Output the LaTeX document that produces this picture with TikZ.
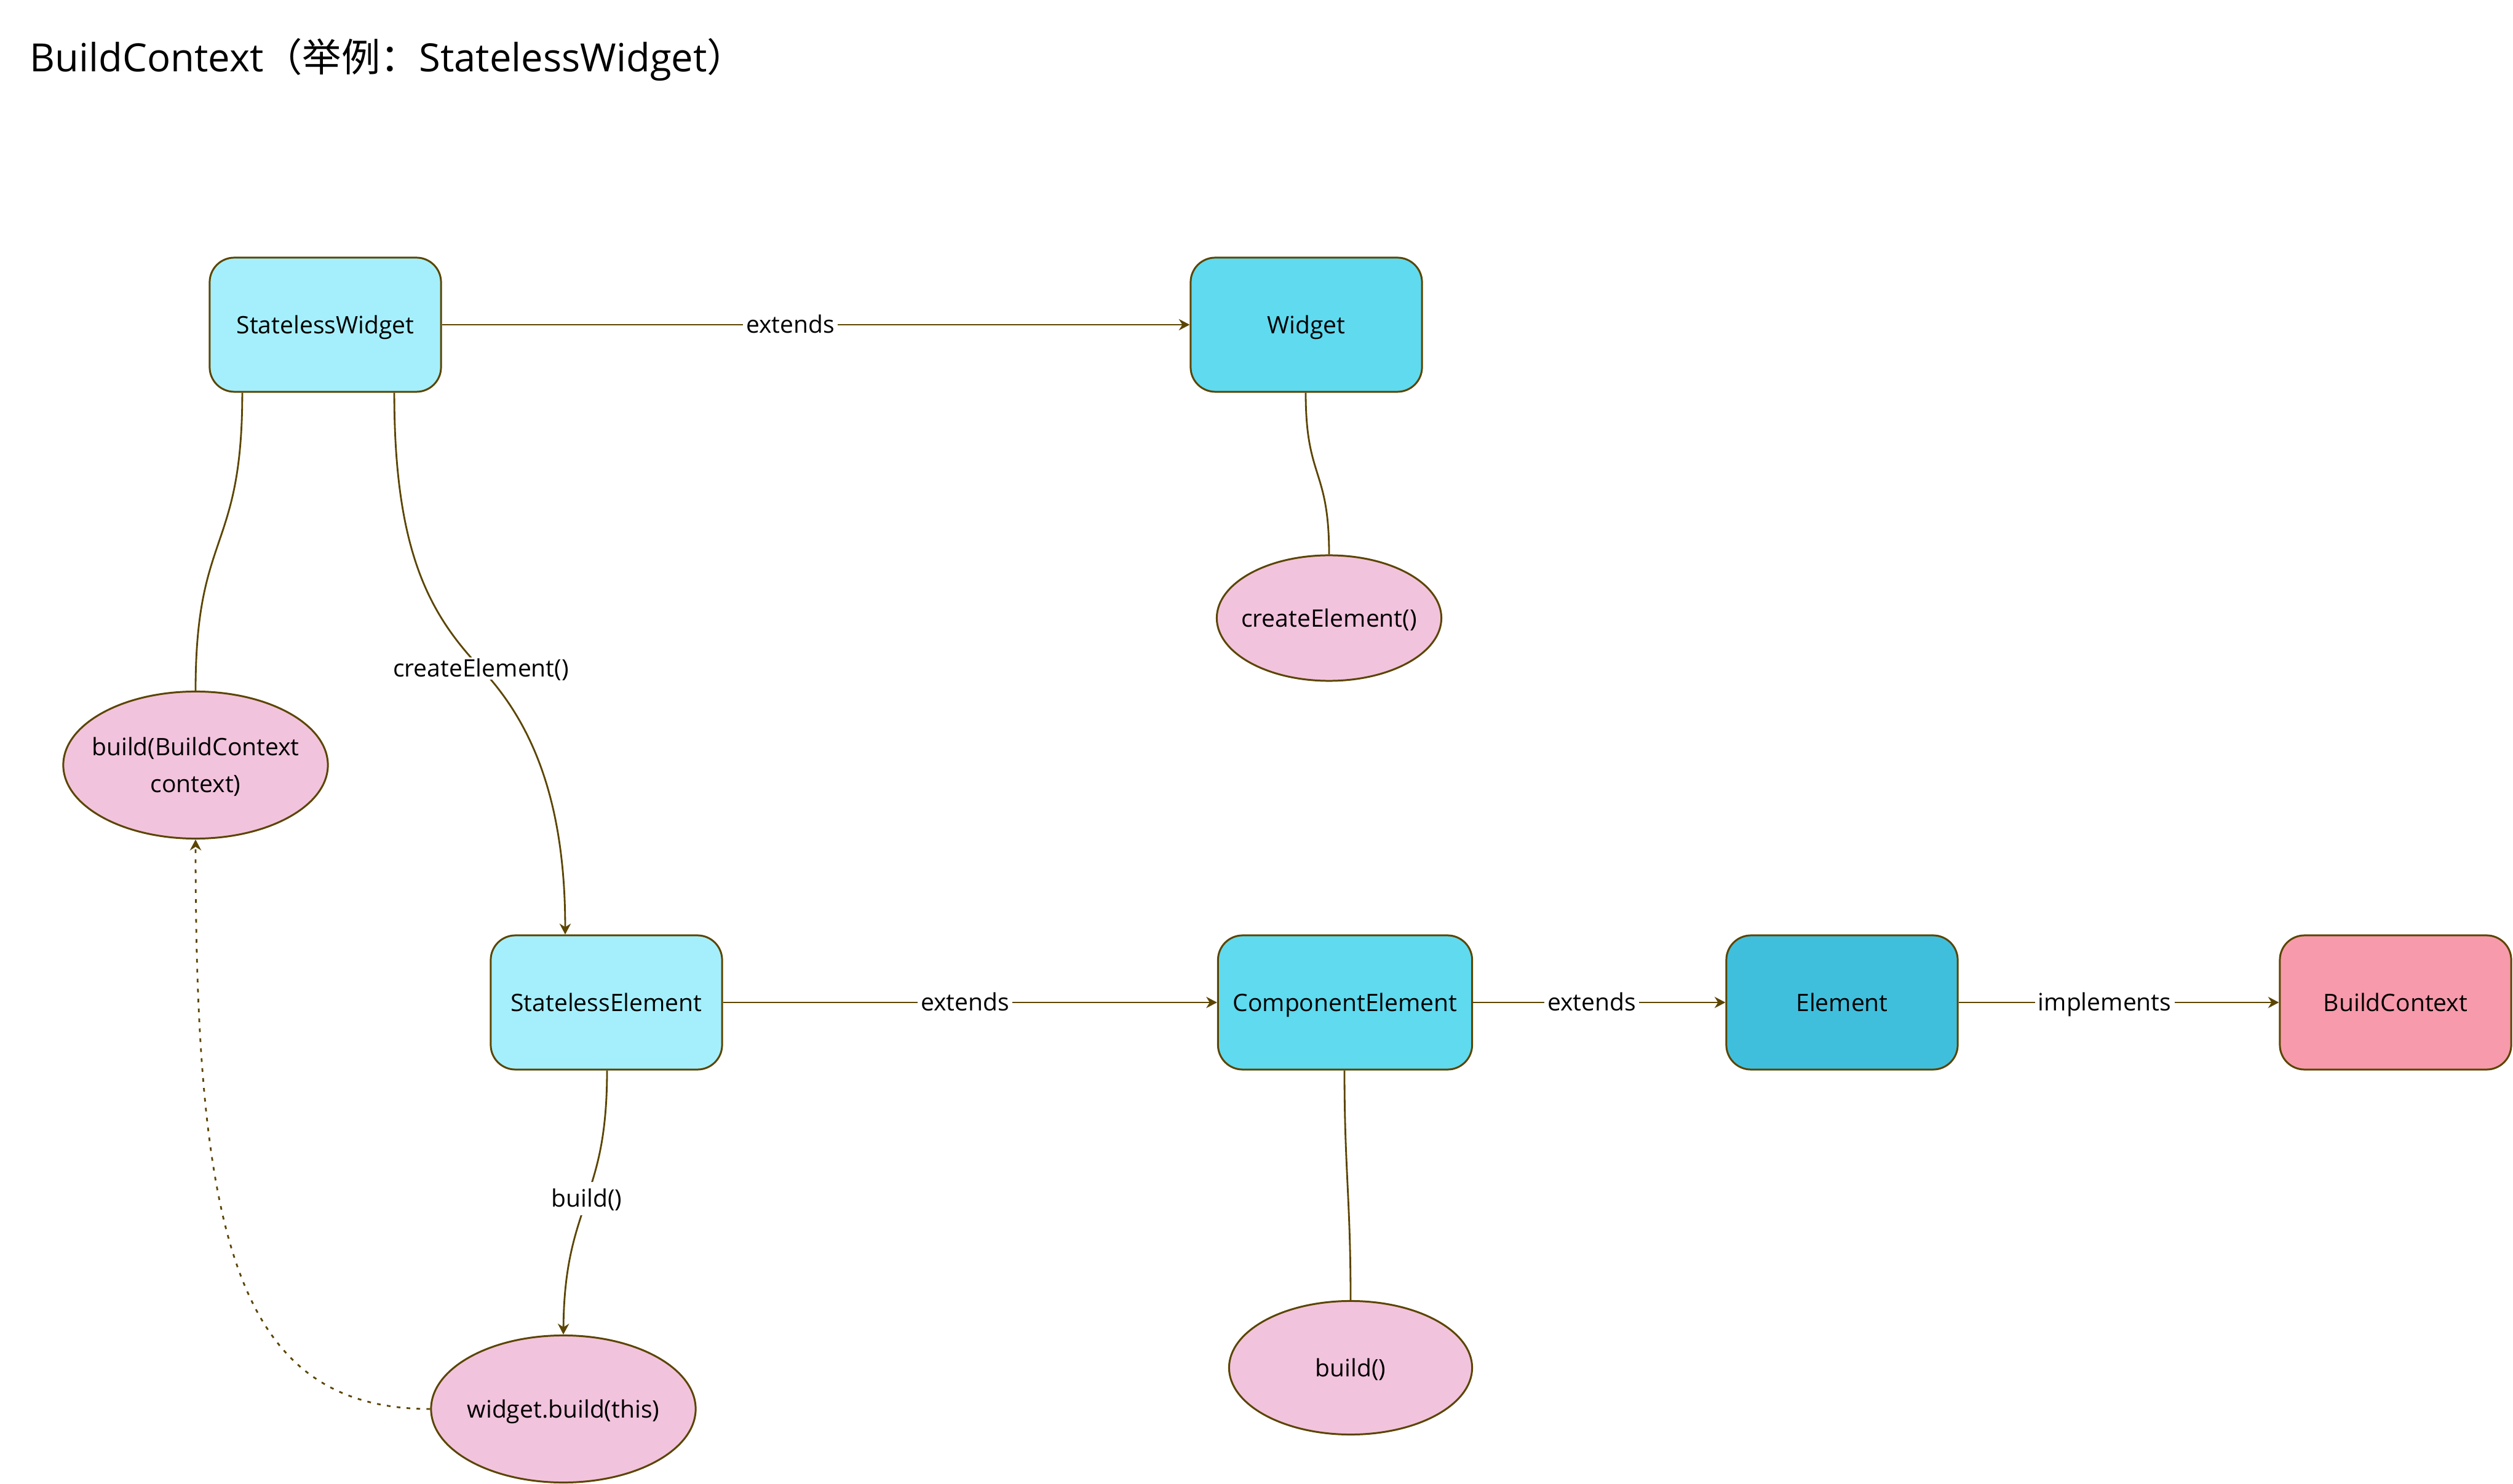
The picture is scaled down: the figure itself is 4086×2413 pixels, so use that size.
\documentclass[tikz,border=0pt]{standalone}
\usepackage{fontspec}
\setmainfont{Open Sans}
\newfontfamily\cjk{Noto Sans CJK SC}
\usetikzlibrary{shapes.geometric,arrows.meta}
\definecolor{strk}{HTML}{5B4500}
\definecolor{lcyan}{HTML}{A5EFFC}
\definecolor{mcyan}{HTML}{5FDAEF}
\definecolor{dcyan}{HTML}{40BFDD}
\definecolor{pinkr}{HTML}{F79AAB}
\definecolor{pinke}{HTML}{F2C3DD}
\tikzset{
  nodefont/.style={font=\fontsize{11.1}{17}\selectfont},
  box/.style={nodefont, rectangle, rounded corners=0.4cm, draw=strk, line width=0.85pt,
    minimum width=3.76cm, minimum height=2.18cm, inner sep=0pt, align=center, text depth=0pt},
  ell/.style={nodefont, ellipse, draw=strk, line width=0.85pt, fill=pinke,
    inner sep=0pt, inner xsep=-1.2cm, align=center, text depth=0pt},
  conn/.style={draw=strk, line width=0.8pt},
  arr/.style={conn, -{Stealth[length=5pt,width=5.2pt,inset=1.6pt]}},
  lbl/.style={nodefont, fill=white, inner sep=1.5pt, text height=0.75em, text depth=0pt},
}
\begin{document}
\begin{tikzpicture}[x=0.01cm,y=-0.01cm]
\useasboundingbox (0,0) rectangle (4086,2413);
\fill[white] (0,0) rectangle (4086,2413);

\node[anchor=base west, inner sep=0pt, font=\fontsize{18}{22}\selectfont] (title) at (48,117)
  {BuildContext{\cjk （举例：}StatelessWidget{\cjk ）}};

% boxes
\node[box, fill=lcyan] (sw) at (529,528) {StatelessWidget};
\node[box, fill=mcyan] (w) at (2124,528) {Widget};
\node[box, fill=lcyan] (se) at (986,1630) {StatelessElement};
\node[box, fill=mcyan, minimum width=4.13cm] (ce) at (2187,1630) {ComponentElement};
\node[box, fill=dcyan] (el) at (2995,1630) {Element};
\node[box, fill=pinkr] (bc) at (3895,1630) {BuildContext};

% ellipses
\node[ell, minimum width=3.65cm, minimum height=2.04cm] (ce1) at (2161,1005) {createElement()};
\node[ell, minimum width=4.30cm, minimum height=2.39cm] (bctx) at (318,1244) {build(BuildContext\\context)};
\node[ell, minimum width=4.30cm, minimum height=2.39cm] (wb) at (916,2291) {widget.build(this)};
\node[ell, minimum width=3.95cm, minimum height=2.17cm] (bld) at (2196,2224) {build()};

% straight connectors
\draw[arr] (sw.east) -- node[lbl, pos=0.466]{extends} (w.west);
\draw[arr] (se.east) -- node[lbl, pos=0.49]{extends} (ce.west);
\draw[arr] (ce.east) -- node[lbl, pos=0.47]{extends} (el.west);
\draw[arr] (el.east) -- node[lbl, pos=0.456]{implements} (bc.west);

% curved connectors
\coordinate (sw1) at ([xshift=-1.35cm]sw.south);
\coordinate (sw2) at ([xshift=1.12cm]sw.south);
\coordinate (w1) at ([xshift=-0.01cm]w.south);
\coordinate (se1) at ([xshift=0.01cm]se.south);
\coordinate (se2) at ([xshift=-0.67cm]se.north);
\coordinate (ce2) at ([xshift=-0.01cm]ce.south);

\draw[conn] (sw1) .. controls (394,900) and (318,862) .. (bctx.north);
\draw[conn] (w1) .. controls (2123,780) and (2161,760) .. (ce1.north);
\draw[arr] (sw2) .. controls (641,900) and (700,1000) .. (782,1087)
  node[lbl]{createElement()}
  .. controls (864,1174) and (919,1300) .. (se2);
\draw[arr] (se1) .. controls (987,1850) and (970,1900) .. (954,1949)
  node[lbl, inner ysep=4pt]{build()}
  .. controls (938,2000) and (917,2050) .. (wb.north);
\draw[conn] (ce2) .. controls (2186,1900) and (2196,1950) .. (bld.north);
\draw[arr, dash pattern=on 1.7pt off 2.9pt] (wb.west) .. controls (380,2291) and (318,2000) .. (bctx.south);
\end{tikzpicture}
\end{document}
